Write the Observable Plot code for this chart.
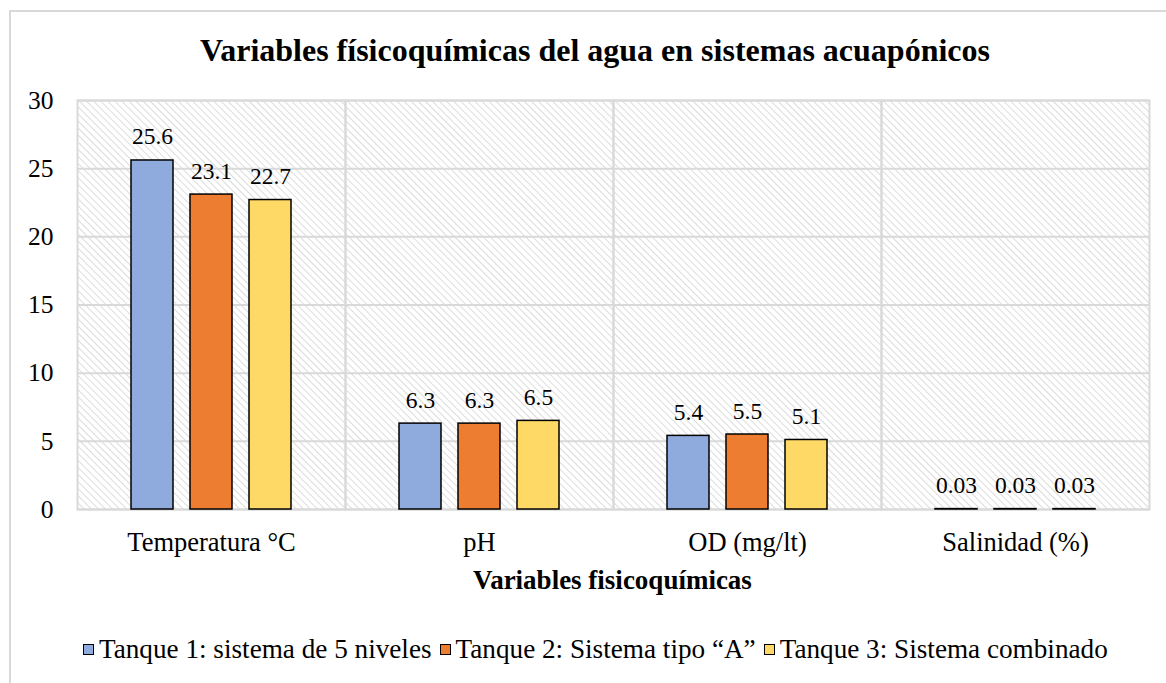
<!DOCTYPE html>
<html>
<head>
<meta charset="utf-8">
<script src="https://cdn.jsdelivr.net/npm/d3@7"></script>
<script src="https://cdn.jsdelivr.net/npm/@observablehq/plot@0.6"></script>
<style>
  html, body { margin: 0; padding: 0; background: #fff; overflow: hidden; }
  #wrap { position: relative; width: 1166px; height: 683px; font-family: "Liberation Serif", "Times New Roman", serif; color: #000; }
  #border { position: absolute; left: 9px; top: 10px; width: 1200px; height: 720px; border: 2px solid #d9d9d9; box-sizing: border-box; }
  #title { position: absolute; left: 0; top: 29px; width: 1190px; text-align: center; font-weight: bold; font-size: 32px; line-height: 42px; }
  #chart { position: absolute; left: 0; top: 80px; }
  #xlabel { position: absolute; left: 76px; width: 1073px; top: 564px; text-align: center; font-weight: bold; font-size: 27px; line-height: 32px; }
  #legend { position: absolute; left: 83px; top: 633px; display: flex; align-items: center; font-size: 27.2px; line-height: 32px; white-space: nowrap; }
  .item { display: flex; align-items: center; margin-right: 8px; }
  .sw { width: 9px; height: 9px; border: 1.5px solid #000; margin-right: 5px; }
</style>
</head>
<body>
<div id="wrap">
  <div id="border"></div>
  <div id="title">Variables físicoquímicas del agua en sistemas acuapónicos</div>
  <div id="chart"></div>
  <div id="xlabel"></div>
  <div id="legend"></div>
</div>
<script>
const categories = ["Temperatura °C", "pH", "OD (mg/lt)", "Salinidad (%)"];
const seriesNames = ["Tanque 1: sistema de 5 niveles", "Tanque 2: Sistema tipo “A”", "Tanque 3: Sistema combinado"];
const tanque1 = [25.6, 6.3, 5.4, 0.03];
const tanque2 = [23.1, 6.3, 5.5, 0.03];
const tanque3 = [22.7, 6.5, 5.1, 0.03];
const seriesColors = ["#8FAADC", "#ED7D31", "#FFD966"];
const yTicks = [0, 5, 10, 15, 20, 25, 30];
const xTitle = "Variables fisicoquímicas";

const seriesValues = [tanque1, tanque2, tanque3];
const data = [];
categories.forEach((c, i) => {
  seriesNames.forEach((s, j) => {
    data.push({cat: c, series: s, value: seriesValues[j][i]});
  });
});

const chart = Plot.plot({
  width: 1166,
  height: 530,
  marginTop: 20,
  marginBottom: 101,
  marginLeft: 76,
  marginRight: 17,
  style: {fontFamily: "'Liberation Serif', 'Times New Roman', serif", fontSize: "26.5px", color: "#000", background: "transparent", overflow: "visible"},
  fx: {domain: categories, padding: 0, label: null, axis: "bottom", tickSize: 0, tickPadding: 23},
  x: {domain: seriesNames, paddingInner: 0.288, paddingOuter: 0.915, axis: null},
  y: {domain: [0, 30], axis: null},
  color: {domain: seriesNames, range: seriesColors},
  marks: [
    Plot.frame({fill: "url(#hatch)", stroke: "none"}),
    Plot.gridY(yTicks, {stroke: "#d9d9d9", strokeOpacity: 1, strokeWidth: 2}),
    Plot.frame({stroke: "#d9d9d9", strokeWidth: 2}),
    Plot.axisY({ticks: yTicks, tickSize: 0, tickPadding: 24, fontSize: 25.5, label: null}),
    Plot.barY(data, {fx: "cat", x: "series", y: "value", fill: "series", stroke: "#000", strokeWidth: 1.5}),
    Plot.text(data, {fx: "cat", x: "series", y: "value", text: d => String(d.value), lineAnchor: "bottom", dy: -16, fill: "#000", fontSize: 23.5})
  ]
});

const svg = d3.select(chart);
const defs = svg.insert("defs", ":first-child");
const pat = defs.append("pattern")
  .attr("id", "hatch")
  .attr("patternUnits", "userSpaceOnUse")
  .attr("width", 5)
  .attr("height", 5)
  .attr("patternTransform", "rotate(-45)");
pat.append("rect").attr("width", 5).attr("height", 5).attr("fill", "#ffffff");
pat.append("line").attr("x1", 0).attr("y1", 0).attr("x2", 0).attr("y2", 5)
  .attr("stroke", "#d4d4d4").attr("stroke-width", 1.6);

document.getElementById("chart").appendChild(chart);
document.getElementById("xlabel").textContent = xTitle;

const legend = document.getElementById("legend");
seriesNames.forEach((s, i) => {
  const it = document.createElement("div");
  it.className = "item";
  const sw = document.createElement("div");
  sw.className = "sw";
  sw.style.background = seriesColors[i];
  const tx = document.createElement("span");
  tx.textContent = s;
  it.appendChild(sw);
  it.appendChild(tx);
  legend.appendChild(it);
});
</script>
</body>
</html>
